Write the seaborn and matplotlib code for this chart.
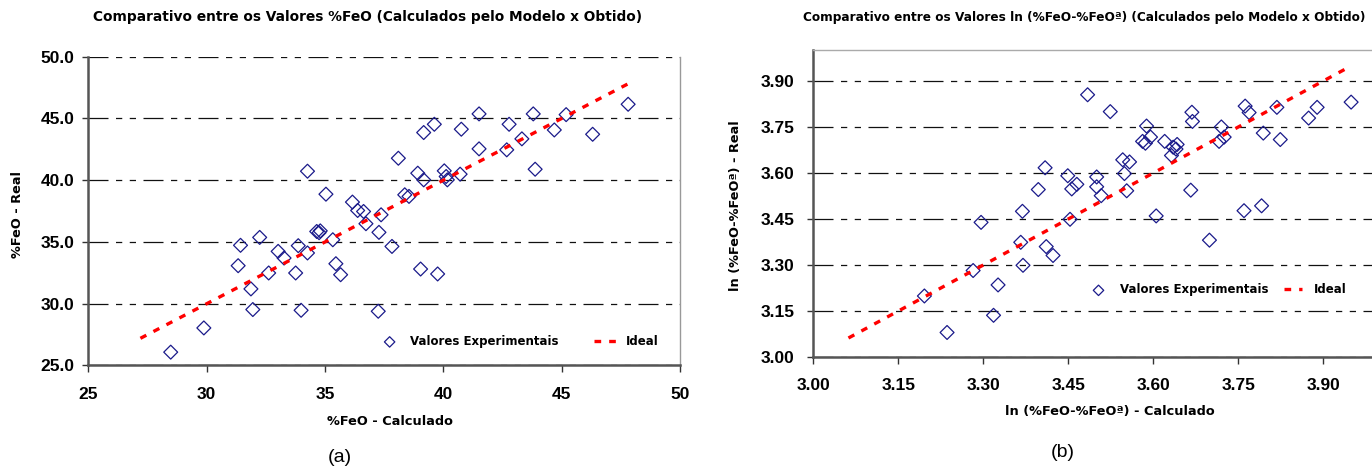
import matplotlib
matplotlib.use("Agg")
import matplotlib.pyplot as plt
import seaborn as sns
import pandas as pd

# ---- data ----
feo_calc = [28.48, 29.88, 31.33, 31.43, 31.87, 31.95, 32.24, 32.62, 33.02, 33.27,
            33.76, 33.87, 33.99, 34.26, 34.26, 34.65, 34.75, 34.80, 35.04, 35.33,
            35.46, 35.66, 36.16, 36.38, 36.63, 36.73, 37.28, 37.37, 37.25, 37.83,
            38.10, 38.37, 38.55, 38.92, 39.17, 39.04, 39.17, 39.62, 39.76, 40.04,
            40.12, 40.17, 40.71, 40.76, 41.51, 41.51, 42.68, 42.78, 43.32, 43.80,
            43.88, 44.69, 45.19, 46.31, 47.81]
feo_real = [26.08, 28.04, 33.08, 34.73, 31.20, 29.53, 35.37, 32.49, 34.24, 33.70,
            32.49, 34.70, 29.47, 40.73, 34.11, 35.85, 35.75, 35.90, 38.87, 35.18,
            33.24, 32.35, 38.23, 37.55, 37.47, 36.48, 35.78, 37.20, 29.39, 34.64,
            41.78, 38.82, 38.69, 40.57, 40.03, 32.81, 43.86, 44.53, 32.41, 40.76,
            40.30, 40.03, 40.49, 44.13, 45.37, 42.54, 42.46, 44.53, 43.35, 45.37,
            40.89, 44.07, 45.31, 43.72, 46.15]
ideal_a = [27.2, 47.8]

ln_calc = [3.196, 3.236, 3.282, 3.296, 3.318, 3.326, 3.366, 3.369, 3.370, 3.397,
           3.409, 3.411, 3.423, 3.449, 3.453, 3.456, 3.465, 3.484, 3.500, 3.500,
           3.508, 3.524, 3.546, 3.549, 3.553, 3.558, 3.581, 3.586, 3.588, 3.595,
           3.605, 3.620, 3.632, 3.635, 3.642, 3.640, 3.666, 3.668, 3.669, 3.699,
           3.716, 3.720, 3.725, 3.760, 3.762, 3.769, 3.791, 3.794, 3.818, 3.824,
           3.874, 3.889, 3.949]
ln_real = [3.199, 3.080, 3.282, 3.439, 3.136, 3.235, 3.374, 3.475, 3.299, 3.546,
           3.617, 3.360, 3.331, 3.591, 3.449, 3.548, 3.563, 3.855, 3.587, 3.555,
           3.526, 3.800, 3.643, 3.598, 3.542, 3.636, 3.703, 3.697, 3.753, 3.717,
           3.460, 3.703, 3.657, 3.684, 3.693, 3.678, 3.544, 3.798, 3.768, 3.381,
           3.703, 3.750, 3.717, 3.477, 3.818, 3.797, 3.493, 3.730, 3.814, 3.709,
           3.779, 3.814, 3.831]
ideal_b = [3.062, 3.948]

xticks_a = [25, 30, 35, 40, 45, 50]
yticks_a = [25.0, 30.0, 35.0, 40.0, 45.0, 50.0]
ticks_b = [3.00, 3.15, 3.30, 3.45, 3.60, 3.75, 3.90]

title_a = "Comparativo entre os Valores %FeO (Calculados pelo Modelo x Obtido)"
title_b = "Comparativo entre os Valores ln (%FeO-%FeOª) (Calculados pelo Modelo x Obtido)"
xlabel_a = "%FeO - Calculado"
ylabel_a = "%FeO - Real"
xlabel_b = "ln (%FeO-%FeOª) - Calculado"
ylabel_b = "ln (%FeO-%FeOª) - Real"
series_names = ["Valores Experimentais", "Ideal"]

# ---- style ----
sns.set_theme(style="white")
plt.rcParams['font.family'] = ['DejaVu Sans']
plt.rcParams['text.color'] = 'black'
plt.rcParams['xtick.color'] = 'black'
plt.rcParams['ytick.color'] = 'black'

NAVY = "#1a1a8a"
RED = "#ff0000"
COMIC = dict(family=['DejaVu Sans'], weight='bold', color='black')
TICKF = dict(family=['Liberation Sans'], weight='bold', size=12.5, color='black')

fig = plt.figure(figsize=(13.72, 4.73), dpi=100)
fig.patch.set_facecolor("white")
ax1 = fig.add_axes([0.0644, 0.2273, 0.4312, 0.6528])
ax2 = fig.add_axes([0.5928, 0.2452, 0.4337, 0.6485])

df_a = pd.DataFrame({"calc": feo_calc, "real": feo_real})
df_b = pd.DataFrame({"calc": ln_calc, "real": ln_real})
df_ia = pd.DataFrame({"x": ideal_a, "y": ideal_a})
df_ib = pd.DataFrame({"x": ideal_b, "y": ideal_b})


def draw(ax, df, dfi, xlim, ylim, xt, yt, yfmt, xfmt, xpad, ypad):
    sns.scatterplot(data=df, x="calc", y="real", ax=ax, marker="D", s=50,
                    linewidth=0.9, label=series_names[0], zorder=3)
    coll = ax.collections[0]
    coll.set_facecolor("none")
    coll.set_edgecolor(NAVY)
    sns.lineplot(data=dfi, x="x", y="y", ax=ax, color=RED, lw=2.4,
                 label=series_names[1], zorder=4)
    ln = ax.lines[0]
    ln.set_linestyle((0, (2.0, 2.4)))
    ax.set_xlim(*xlim)
    ax.set_ylim(*ylim)
    ax.set_xticks(xt)
    ax.set_yticks(yt)
    ax.set_xticklabels([xfmt.format(v) for v in xt], **TICKF)
    ax.set_yticklabels([yfmt.format(v) for v in yt], **TICKF)
    ax.tick_params(axis='x', direction='out', length=5, width=1, color='#333333',
                   bottom=True, pad=xpad)
    ax.tick_params(axis='y', direction='out', length=4, width=1, color='#333333',
                   left=True, pad=ypad)
    ax.yaxis.grid(True, color='#111111', lw=0.9,
                  linestyle=(0, (16, 6, 5, 6, 5, 6)))
    ax.xaxis.grid(False)
    ax.set_axisbelow(True)
    for s in ["left", "bottom"]:
        ax.spines[s].set_color("#555555")
        ax.spines[s].set_linewidth(1.8)
    ax.set_xlabel("")
    ax.set_ylabel("")


draw(ax1, df_a, df_ia, (25, 50), (25, 50), xticks_a, yticks_a, "{:.1f}", "{:d}", 10.5, 6.0)
ax1.spines["top"].set_visible(False)
ax1.spines["right"].set_color("#999999")
ax1.spines["right"].set_linewidth(1.0)

draw(ax2, df_b, df_ib, (3.00, 4.05), (3.00, 4.00), ticks_b, ticks_b, "{:.2f}", "{:.2f}", 10.0, 9.5)
ax2.spines["top"].set_color("#aaaaaa")
ax2.spines["top"].set_linewidth(1.0)
ax2.spines["right"].set_visible(False)

# legends
LEGF = dict(family='DejaVu Sans', weight='bold', size=8.5)
leg1 = ax1.legend(loc="center", bbox_to_anchor=(0.378, 0.278),
                  bbox_transform=fig.transFigure, ncol=2, frameon=True,
                  markerscale=0.75, handlelength=1.9, handletextpad=0.8,
                  columnspacing=3.0, prop=LEGF)
leg2 = ax2.legend(loc="center", bbox_to_anchor=(0.8878, 0.387),
                  bbox_transform=fig.transFigure, ncol=2, frameon=True,
                  markerscale=0.75, handlelength=1.6, handletextpad=1.0,
                  columnspacing=1.3, prop=LEGF)
for leg in (leg1, leg2):
    leg.get_frame().set_facecolor("white")
    leg.get_frame().set_edgecolor("none")
    leg.get_frame().set_alpha(1.0)
    leg.set_zorder(10)
    for t in leg.get_texts():
        t.set_color("black")

# titles and axis labels
fig.text(0.2675, 0.964, title_a, ha="center", va="center", size=9.9, **COMIC)
fig.text(0.790, 0.964, title_b, ha="center", va="center", size=8.7, **COMIC)
fig.text(390 / 1372, 1 - 421 / 473, xlabel_a, ha="center", va="center", size=9.3, **COMIC)
fig.text(1110 / 1372, 1 - 411 / 473, xlabel_b, ha="center", va="center", size=9.3, **COMIC)
fig.text(18 / 1372, 1 - 214 / 473, ylabel_a, ha="center", va="center", rotation=90, size=9.3, **COMIC)
fig.text(735 / 1372, 1 - 206 / 473, ylabel_b, ha="center", va="center", rotation=90, size=9.3, **COMIC)
fig.text(340 / 1372, 1 - 457 / 473, "(a)", ha="center", va="center", size=14,
         family=['Liberation Sans'], color='black')
fig.text(1063 / 1372, 1 - 452 / 473, "(b)", ha="center", va="center", size=14,
         family=['Liberation Sans'], color='black')

fig.savefig("out.png", dpi=100, facecolor="white")
